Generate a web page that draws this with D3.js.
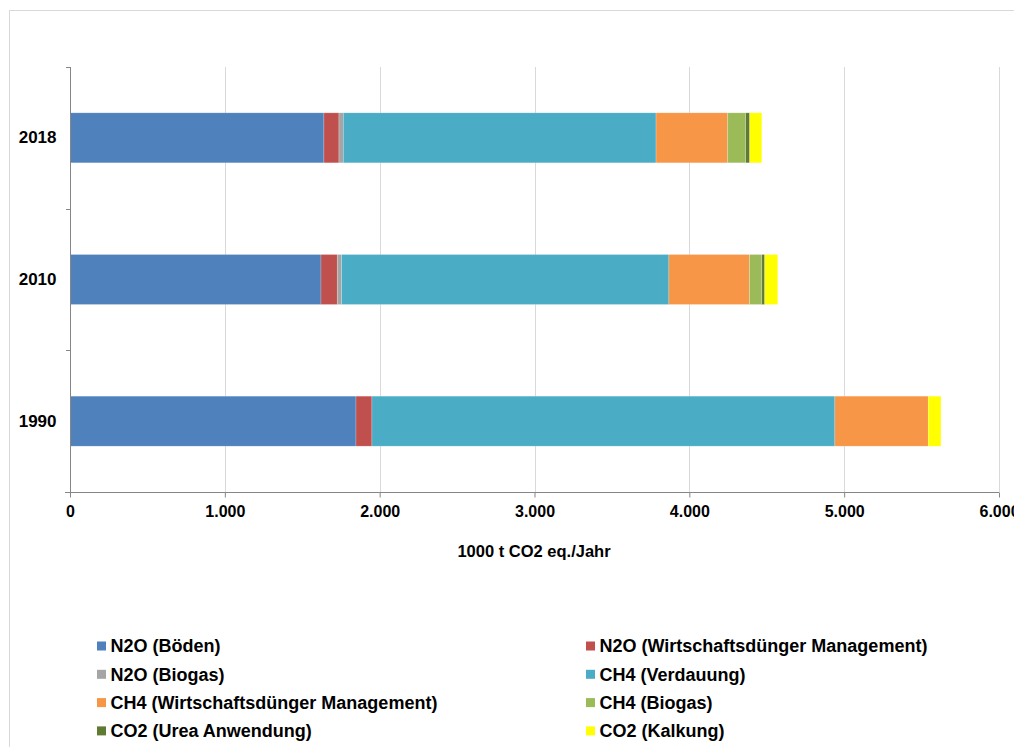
<!DOCTYPE html>
<html>
<head>
<meta charset="utf-8">
<script src="https://cdn.jsdelivr.net/npm/d3@7/dist/d3.min.js"></script>
<style>
  html, body { margin: 0; padding: 0; background: #fff; }
  svg { display: block; font-family: "Liberation Sans", Arial, sans-serif; }
</style>
</head>
<body>
<svg id="chart" width="1014" height="747"></svg>
<script>
// Treibhausgasemissionen der Landwirtschaft nach Quelle (1000 t CO2 eq./Jahr)
const years = ["2018", "2010", "1990"];
const seriesNames = [
  "N2O (Böden)",
  "N2O (Wirtschaftsdünger Management)",
  "N2O (Biogas)",
  "CH4 (Verdauung)",
  "CH4 (Wirtschaftsdünger Management)",
  "CH4 (Biogas)",
  "CO2 (Urea Anwendung)",
  "CO2 (Kalkung)"
];
const seriesColors = ["#4f81bd", "#c0504d", "#a5a5a5", "#4bacc6", "#f79646", "#9bbb59", "#617a33", "#ffff00"];

// values per year, in the order of seriesNames
const values2018 = [1640, 97, 28, 2020, 463, 116, 26, 78];
const values2010 = [1621, 105, 28, 2114, 521, 79, 19, 84];
const values1990 = [1847, 103, 0, 2990, 603, 0, 0, 82];

const xTicks = [0, 1000, 2000, 3000, 4000, 5000, 6000];

const table = [values2018, values2010, values1990].map((vals, i) => {
  const row = { year: years[i] };
  seriesNames.forEach((n, j) => row[n] = vals[j]);
  return row;
});

const svg = d3.select("#chart");
const de = d3.formatLocale({ decimal: ",", thousands: ".", grouping: [3], currency: ["", " €"] });
const fmt = de.format(",.0f");

// outer chart frame
svg.append("rect")
  .attr("x", 9.5).attr("y", 10.5)
  .attr("width", 1100).attr("height", 800)
  .attr("fill", "none").attr("stroke", "#d9d9d9");

const x = d3.scaleLinear().domain([0, 6000]).range([70, 999]);
const y = d3.scaleBand().domain(years).range([67, 492]).paddingInner(0.647).paddingOuter(0.3235);

// vertical gridlines
svg.append("g").selectAll("line").data(xTicks.slice(1)).join("line")
  .attr("x1", d => Math.round(x(d)) + 0.5).attr("x2", d => Math.round(x(d)) + 0.5)
  .attr("y1", 67).attr("y2", 492)
  .attr("stroke", "#d9d9d9").attr("stroke-width", 1);

// stacked bars
const stack = d3.stack().keys(seriesNames)(table);
svg.append("g").selectAll("g").data(stack).join("g")
  .attr("fill", (d, i) => seriesColors[i])
  .selectAll("rect").data(d => d).join("rect")
  .attr("x", d => x(d[0]))
  .attr("y", d => y(d.data.year))
  .attr("width", d => Math.max(0, x(d[1]) - x(d[0])))
  .attr("height", y.bandwidth())
  .attr("stroke", "#ffffff").attr("stroke-opacity", 0.35).attr("stroke-width", 0.6);

// x axis
const xAxis = svg.append("g").attr("transform", "translate(0,492.5)")
  .call(d3.axisBottom(x).tickValues(xTicks).tickFormat(fmt).tickSize(5).tickSizeOuter(0));
xAxis.select(".domain").attr("stroke", "#868686").attr("d", "M65,0H999");
xAxis.selectAll(".tick line").attr("stroke", "#868686");
xAxis.selectAll(".tick text")
  .attr("y", 13).attr("dy", "0.71em")
  .attr("font-size", 16).attr("font-weight", "bold").attr("fill", "#000")
  .attr("font-family", "Liberation Sans, Arial, sans-serif");

// y axis
const yAxis = svg.append("g").attr("transform", "translate(70.5,0)")
  .call(d3.axisLeft(y).tickSize(0).tickPadding(14));
yAxis.select(".domain").attr("stroke", "#868686").attr("d", "M0,67V492");
yAxis.selectAll(".tick text")
  .attr("font-size", 17).attr("font-weight", "bold").attr("fill", "#000")
  .attr("font-family", "Liberation Sans, Arial, sans-serif");
// category separator ticks
const step = y.step();
const sepY = d3.range(years.length).map(i => y.range()[0] + i * step);
svg.append("g").selectAll("line").data(sepY).join("line")
  .attr("x1", 66).attr("x2", 70.5)
  .attr("y1", d => Math.round(d) + 0.5).attr("y2", d => Math.round(d) + 0.5)
  .attr("stroke", "#868686");

// axis title
svg.append("text")
  .attr("x", 534).attr("y", 557)
  .attr("text-anchor", "middle")
  .attr("font-size", 16.5).attr("font-weight", "bold")
  .text("1000 t CO2 eq./Jahr");

// legend, two columns
const legend = svg.append("g").selectAll("g").data(seriesNames).join("g")
  .attr("transform", (d, i) => `translate(${i % 2 === 0 ? 97 : 586},${646 + Math.floor(i / 2) * 28.3})`);
legend.append("rect")
  .attr("x", 0).attr("y", -4.5).attr("width", 9).attr("height", 9)
  .attr("fill", (d, i) => seriesColors[i]);
legend.append("text")
  .attr("x", 13.5).attr("y", 0).attr("dy", "0.36em")
  .attr("font-size", 18).attr("font-weight", "bold")
  .text(d => d);
</script>
</body>
</html>
